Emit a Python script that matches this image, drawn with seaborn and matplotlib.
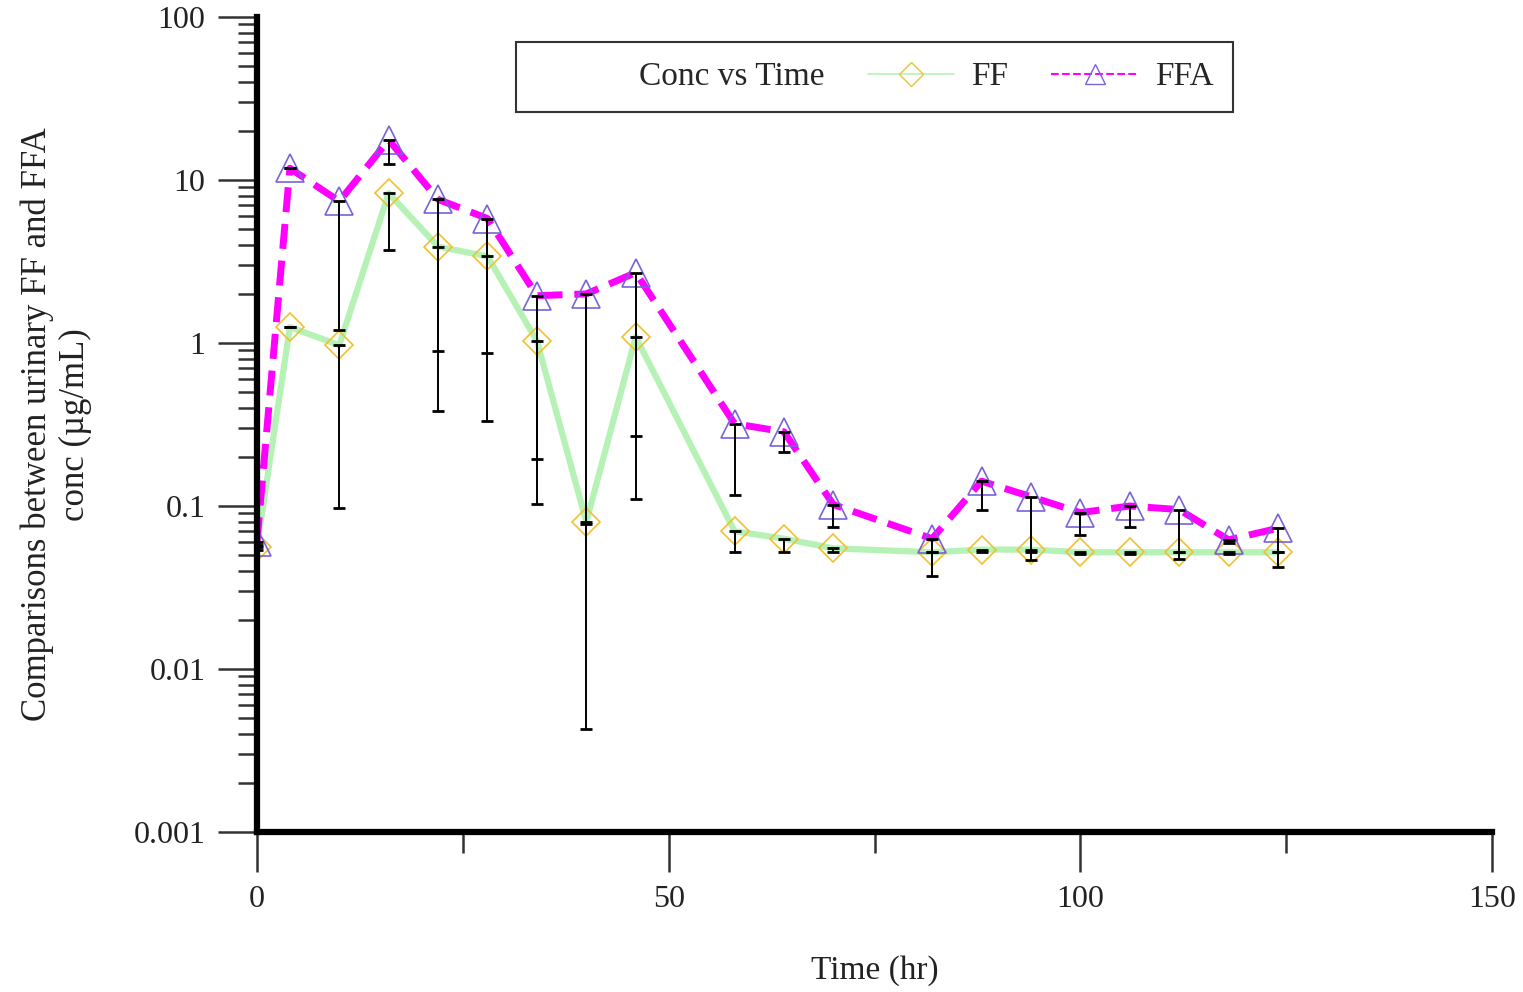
import numpy as np
import matplotlib
matplotlib.use("Agg")
import matplotlib.pyplot as plt
from matplotlib.lines import Line2D
from matplotlib.ticker import FixedLocator, LogLocator, NullFormatter, FuncFormatter
import seaborn as sns

# datos (tiempo en horas, conc en ug/mL)
time_hr = np.array([0, 4, 10, 16, 22, 28, 34, 40, 46, 58, 64, 70, 82, 88, 94, 100, 106, 112, 118, 124])

ffa_mean = np.array([0.060, 11.8, 7.4, 17.6, 7.6, 5.8, 1.95, 2.0, 2.7, 0.32, 0.285, 0.102,
                     0.063, 0.142, 0.114, 0.091, 0.100, 0.095, 0.062, 0.073])
ffa_low = np.array([0.058, 11.8, 1.2, 12.5, 0.89, 0.87, 0.195, 0.0043, 0.27, 0.117, 0.215, 0.074,
                    0.052, 0.095, 0.052, 0.066, 0.074, 0.052, 0.059, 0.052])

ff_mean = np.array([0.056, 1.25, 0.97, 8.3, 3.9, 3.4, 1.03, 0.080, 1.09, 0.070, 0.063, 0.055,
                    0.052, 0.054, 0.054, 0.052, 0.052, 0.052, 0.052, 0.052])
ff_low = np.array([0.054, 1.25, 0.097, 3.7, 0.38, 0.33, 0.103, 0.077, 0.11, 0.052, 0.052, 0.052,
                   0.037, 0.052, 0.0465, 0.051, 0.051, 0.047, 0.051, 0.042])

x_ticks = [0, 50, 100, 150]
y_ticks = [0.001, 0.01, 0.1, 1, 10, 100]

ff_line = "#b6f2b6"
ff_edge = "#f0c030"
ffa_line = "#ff00ff"
ffa_edge = "#7a62d8"

sns.set_theme(style="white")
plt.rcParams["font.family"] = ["Liberation Serif", "DejaVu Serif"]

fig = plt.figure(figsize=(15.23, 9.92), dpi=100)
ax = fig.add_axes([0.1687, 0.1613, 0.811, 0.8216])

# lineas con marcadores huecos
sns.lineplot(x=time_hr, y=ff_mean, ax=ax, color=ff_line, linewidth=4.5,
             marker="D", markersize=14, markerfacecolor="none",
             markeredgecolor=ff_edge, markeredgewidth=1.2)
sns.lineplot(x=time_hr, y=ffa_mean, ax=ax, color=ffa_line, linewidth=5,
             linestyle=(0, (3.6, 1.7)), marker="^", markersize=20,
             markerfacecolor="none", markeredgecolor=ffa_edge, markeredgewidth=1.2)

# barras de error solo hacia abajo
ax.errorbar(time_hr, ff_mean, yerr=[ff_mean - ff_low, np.zeros_like(ff_mean)],
            fmt="none", ecolor="black", elinewidth=1.4, capsize=4, capthick=2)
ax.errorbar(time_hr, ffa_mean, yerr=[ffa_mean - ffa_low, np.zeros_like(ffa_mean)],
            fmt="none", ecolor="black", elinewidth=1.4, capsize=4, capthick=2)

ax.set_yscale("log")
ax.set_xlim(0, 150)
ax.set_ylim(0.001, 100)

ax.xaxis.set_major_locator(FixedLocator(x_ticks))
ax.xaxis.set_minor_locator(FixedLocator([25, 75, 125]))
ax.yaxis.set_major_locator(FixedLocator(y_ticks))
ax.yaxis.set_minor_locator(LogLocator(base=10, subs=np.arange(2, 10)))
ax.yaxis.set_minor_formatter(NullFormatter())
ax.yaxis.set_major_formatter(FuncFormatter(lambda v, p: f"{v:g}"))

ax.tick_params(axis="both", which="major", direction="out", color="#333333",
               labelsize=23, width=1.8, labelcolor="#222222")
ax.tick_params(axis="x", which="major", length=29, pad=9, bottom=True)
ax.tick_params(axis="x", which="minor", direction="out", length=15, width=1.8,
               color="#333333", bottom=True)
ax.tick_params(axis="y", which="major", length=28, pad=9, left=True)
ax.tick_params(axis="y", which="minor", direction="out", length=14, width=1.8,
               color="#333333", left=True)

for s in ["top", "right"]:
    ax.spines[s].set_visible(False)
for s in ["left", "bottom"]:
    ax.spines[s].set_linewidth(4.5)
    ax.spines[s].set_color("black")

ax.set_xlabel("Time (hr)", fontsize=24, color="#222222", labelpad=30)
ax.set_ylabel("Comparisons between urinary FF and FFA\nconc (\u00b5g/mL)",
              fontsize=25, color="#222222", labelpad=30)

handles = [Line2D([], [], linestyle="none"),
           Line2D([], [], color=ff_line, lw=1.2, marker="D", markersize=12,
                  markerfacecolor="none", markeredgecolor=ff_edge),
           Line2D([], [], color=ffa_line, lw=1.5, linestyle="--", marker="^", markersize=15,
                  markerfacecolor="none", markeredgecolor=ffa_edge)]
labels = ["Conc vs Time", "FF", "FFA"]
leg = ax.legend(handles, labels, ncol=3, loc="upper center", bbox_to_anchor=(0.5, 0.99),
                frameon=True, fancybox=False, edgecolor="black", fontsize=24,
                handlelength=2.6, columnspacing=1.3, borderpad=0.6, handletextpad=0.5)
leg.get_frame().set_linewidth(1.5)

fig.savefig("out.png", dpi=100)
